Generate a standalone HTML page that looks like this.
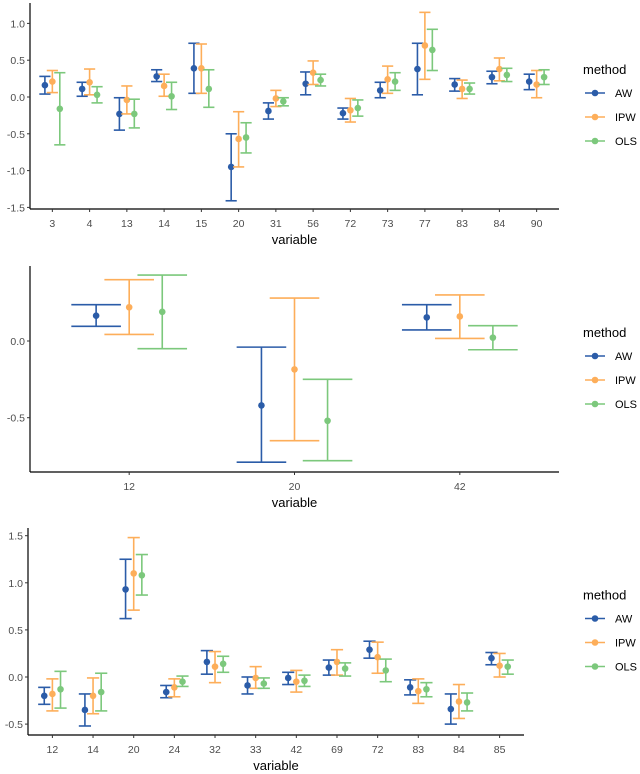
<!DOCTYPE html>
<html><head><meta charset="utf-8"><style>
html,body{margin:0;padding:0;background:#fff;}
svg{display:block;font-family:"Liberation Sans",sans-serif;}
</style></head><body>
<svg id="chart" width="640" height="774" viewBox="0 0 640 774" xmlns="http://www.w3.org/2000/svg"></svg>
<script>
const methods = ["AW","IPW","OLS"];
const colors = ["#2b5ca8","#fdae5a","#7cc87c"];

// Panel 1
const p1Categories = ["3","4","13","14","15","20","31","56","72","73","77","83","84","90"].slice(0,13);
const p1Cats = ["3","4","13","14","15","20","31","56","72","73","77","83","84","90"];
const p1Est = [
 [0.16,0.11,-0.23,0.28,0.39,-0.95,-0.19,0.18,-0.22,0.09,0.38,0.17,0.27,0.21],
 [0.21,0.20,-0.04,0.15,0.39,-0.57,-0.02,0.33,-0.18,0.24,0.70,0.11,0.38,0.17],
 [-0.16,0.03,-0.23,0.01,0.11,-0.55,-0.06,0.23,-0.15,0.21,0.64,0.11,0.30,0.27]];
const p1Low = [
 [0.04,0.01,-0.45,0.21,0.05,-1.41,-0.30,0.03,-0.30,-0.01,0.03,0.08,0.18,0.10],
 [0.06,0.03,-0.23,0.01,0.05,-0.95,-0.13,0.17,-0.34,0.05,0.24,-0.02,0.22,-0.01],
 [-0.65,-0.08,-0.42,-0.17,-0.14,-0.76,-0.12,0.15,-0.26,0.09,0.36,0.04,0.21,0.17]];
const p1High = [
 [0.28,0.20,-0.01,0.37,0.73,-0.50,-0.08,0.34,-0.15,0.20,0.73,0.25,0.35,0.31],
 [0.36,0.38,0.15,0.31,0.72,-0.20,0.09,0.49,-0.02,0.42,1.15,0.23,0.53,0.36],
 [0.33,0.14,-0.03,0.20,0.37,-0.35,-0.01,0.31,-0.04,0.33,0.92,0.19,0.39,0.37]];
const p1Ticks = [1.0,0.5,0.0,-0.5,-1.0,-1.5];
const p1TickLabels = ["1.0","0.5","0.0","-0.5","-1.0","-1.5"];

// Panel 2
const p2Cats = ["12","20","42"];
const p2Est = [[0.165,-0.42,0.154],[0.22,-0.185,0.16],[0.19,-0.52,0.022]];
const p2Low = [[0.096,-0.79,0.072],[0.043,-0.65,0.017],[-0.05,-0.78,-0.057]];
const p2High = [[0.237,-0.04,0.237],[0.40,0.28,0.30],[0.43,-0.25,0.10]];
const p2Ticks = [0.0,-0.5];
const p2TickLabels = ["0.0","-0.5"];

// Panel 3
const p3Cats = ["12","14","20","24","32","33","42","69","72","83","84","85"];
const p3Est = [
 [-0.20,-0.35,0.93,-0.16,0.16,-0.09,-0.01,0.10,0.29,-0.11,-0.34,0.20],
 [-0.18,-0.20,1.10,-0.11,0.11,-0.01,-0.05,0.16,0.21,-0.15,-0.26,0.12],
 [-0.13,-0.16,1.08,-0.05,0.14,-0.07,-0.04,0.09,0.07,-0.13,-0.27,0.11]];
const p3Low = [
 [-0.29,-0.52,0.62,-0.22,0.03,-0.18,-0.08,0.02,0.20,-0.19,-0.50,0.13],
 [-0.36,-0.39,0.71,-0.21,-0.06,-0.12,-0.16,0.02,0.04,-0.28,-0.44,0.00],
 [-0.33,-0.36,0.87,-0.10,0.05,-0.12,-0.10,0.01,-0.05,-0.21,-0.36,0.03]];
const p3High = [
 [-0.11,-0.18,1.25,-0.09,0.28,0.00,0.05,0.18,0.38,-0.03,-0.18,0.26],
 [-0.02,-0.01,1.48,-0.02,0.27,0.11,0.07,0.29,0.37,-0.02,-0.08,0.25],
 [0.06,0.04,1.30,0.01,0.22,-0.01,0.02,0.15,0.19,-0.06,-0.17,0.18]];
const p3Ticks = [1.5,1.0,0.5,0.0,-0.5];
const p3TickLabels = ["1.5","1.0","0.5","0.0","-0.5"];

const svg = document.getElementById('chart');
const NS = "http://www.w3.org/2000/svg";
function mk(tag, attrs, parent){
  const e = document.createElementNS(NS, tag);
  for (const k in attrs) e.setAttribute(k, attrs[k]);
  (parent||svg).appendChild(e);
  return e;
}

function panel(id, cfg, cats, est, low, high, ticks, tickLabels){
  const g = mk('g', {});
  
  
  const n = cats.length;
  const step = (cfg.right - cfg.left) / (n - 1 + 1.2);
  const xScale = i => cfg.left + step * (0.6 + i);
  const yScale = v => cfg.y0 - v * cfg.ppu;
  // axes
  const ya = mk('line', {x1:cfg.left, x2:cfg.left, y1:cfg.top, y2:cfg.bottom, stroke:'#000', 'stroke-width':1.2}, g);
  
  
  const xa = mk('line', {x1:cfg.left, x2:cfg.right, y1:cfg.bottom, y2:cfg.bottom, stroke:'#000', 'stroke-width':1.2}, g);
  
  
  ticks.forEach((t, i) => {
    const y = yScale(t);
    mk('line', {x1:cfg.left-3, x2:cfg.left, y1:y, y2:y, stroke:'#333', 'stroke-width':1}, g);
    const tx = mk('text', {x:cfg.left-5, y:y+4, 'text-anchor':'end', 'font-size':10.5, fill:'#4d4d4d'}, g);
    tx.textContent = tickLabels[i];
    
    
  });
  cats.forEach((c, i) => {
    const x = xScale(i);
    mk('line', {x1:x, x2:x, y1:cfg.bottom, y2:cfg.bottom+3, stroke:'#333', 'stroke-width':1}, g);
    const tx = mk('text', {x:x, y:cfg.bottom+18, 'text-anchor':'middle', 'font-size':10.5, fill:'#4d4d4d'}, g);
    tx.textContent = c;
    
    
  });
  const xt = mk('text', {x:(cfg.left+cfg.right)/2, y:cfg.bottom+35, 'text-anchor':'middle', 'font-size':13, fill:'#000'}, g);
  xt.textContent = 'variable';
  
  
  // marks
  const off = 0.2 * step, cap = 0.15 * step;
  methods.forEach((m, mi) => {
    cats.forEach((c, i) => {
      const x = xScale(i) + (mi - 1) * off;
      const eg = mk('g', {stroke:colors[mi], 'stroke-width':1.6, fill:colors[mi]}, g);
      
      
      const yl = yScale(low[mi][i]), yh = yScale(high[mi][i]);
      mk('line', {x1:x, x2:x, y1:yl, y2:yh}, eg);
      mk('line', {x1:x-cap, x2:x+cap, y1:yl, y2:yl}, eg);
      mk('line', {x1:x-cap, x2:x+cap, y1:yh, y2:yh}, eg);
      const pt = mk('circle', {cx:x, cy:yScale(est[mi][i]), r:3.3, stroke:'none'}, eg);
      
      
    });
  });
  // legend
  const cy = (cfg.top + cfg.bottom) / 2;
  const lg = mk('g', {}, g);
  
  
  const lt = mk('text', {x:583, y:cy-32, 'font-size':13, fill:'#000'}, lg);
  lt.textContent = 'method';
  
  
  methods.forEach((m, mi) => {
    const y = cy - 13 + mi * 24;
    const le = mk('g', {}, lg);
    
    
    mk('line', {x1:585, x2:605, y1:y, y2:y, stroke:colors[mi], 'stroke-width':1.6}, le);
    mk('circle', {cx:595, cy:y, r:3.3, fill:colors[mi]}, le);
    const t = mk('text', {x:615, y:y+4, 'font-size':11, fill:'#000'}, le);
    t.textContent = m;
  });
}

panel('panel-1', {left:30, right:559, top:3, bottom:209, y0:97, ppu:73.6}, p1Cats, p1Est, p1Low, p1High, p1Ticks, p1TickLabels);
panel('panel-2', {left:30, right:559, top:266, bottom:472, y0:341, ppu:153.4}, p2Cats, p2Est, p2Low, p2High, p2Ticks, p2TickLabels);
panel('panel-3', {left:28, right:524, top:528, bottom:735, y0:677, ppu:94.2}, p3Cats, p3Est, p3Low, p3High, p3Ticks, p3TickLabels);
</script>
</body></html>
